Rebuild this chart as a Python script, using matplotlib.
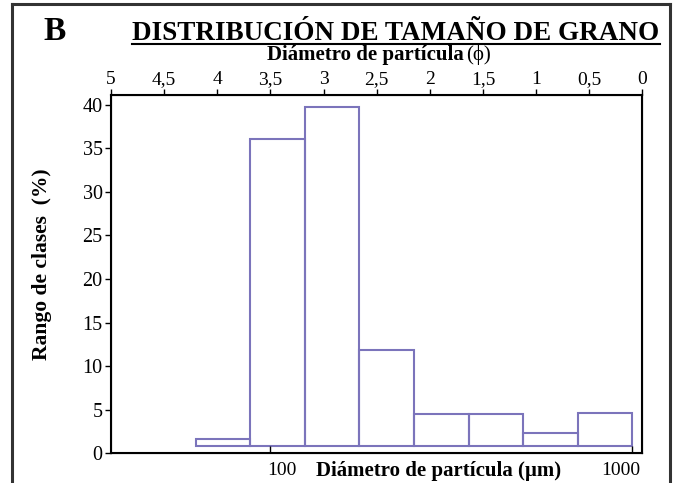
import matplotlib
matplotlib.use("Agg")
import matplotlib.pyplot as plt
import numpy as np
from matplotlib.lines import Line2D
from matplotlib.transforms import ScaledTranslation

plt.rcParams['font.family'] = ['Liberation Serif', 'DejaVu Serif']

# half-phi sieve classes (micrometres) and % retained in each class
bin_edges_um = [62.5, 88.4, 125, 176.8, 250, 353.6, 500, 707.1, 1000]
class_pct = [1.6, 36.0, 39.7, 11.9, 4.5, 4.5, 2.3, 4.6]
base_pct = 0.84

phi_ticks = [5, 4.5, 4, 3.5, 3, 2.5, 2, 1.5, 1, 0.5, 0]
phi_labels = ['5', '4,5', '4', '3,5', '3', '2,5', '2', '1,5', '1', '0,5', '0']
um_ticks = [100, 1000]
um_labels = ['100', '1000']
y_ticks = [0, 5, 10, 15, 20, 25, 30, 35, 40]

W, H = 677, 483
fig = plt.figure(figsize=(W / 100, H / 100), dpi=100)
ax = fig.add_axes([111 / W, 1 - 453.3 / H, 531.3 / W, 358.3 / H])

edges = np.array(bin_edges_um)
tops = np.array(class_pct)
ax.bar(edges[:-1], tops - base_pct, width=np.diff(edges), bottom=base_pct,
       align='edge', fill=False, edgecolor='#7b74bb', linewidth=1.5)

ax.set_xscale('log')
ax.set_xlim(36.5, 1065.6)
ax.set_ylim(0, 41.1)
ax.set_yticks(y_ticks)
ax.set_xticks(um_ticks)
ax.set_xticklabels(um_labels)
ax.xaxis.set_minor_locator(matplotlib.ticker.NullLocator())
ax.tick_params(axis='y', direction='out', length=4, width=1, labelsize=14.5, pad=2)
ax.tick_params(axis='x', direction='in', length=5, width=1, labelsize=14, pad=6)
ax.xaxis.get_major_ticks()[1].tick1line.set_visible(False)
for lab, dx in zip(ax.get_xticklabels(), [12, -12]):
    lab.set_transform(lab.get_transform() + ScaledTranslation(dx / 100, 0, fig.dpi_scale_trans))

for sp in ax.spines.values():
    sp.set_linewidth(1.5)

ax.set_xlabel('Diámetro de partícula (µm)', fontsize=15, fontweight='bold')
ax.xaxis.set_label_coords(0.617, -0.021)
ax.set_ylabel('Rango de clases  (%)', fontsize=15.5, fontweight='bold')
ax.yaxis.set_label_coords(-0.111, 0.528)

# phi scale along the top
ax2 = ax.twiny()
ax2.set_xlim(5, 0)
ax2.set_xticks(phi_ticks)
ax2.set_xticklabels(phi_labels)
ax2.tick_params(axis='x', direction='out', length=4, width=1, labelsize=14, pad=1)

fig.text(463.6 / W, 1 - 60 / H, 'Diámetro de partícula', ha='right', va='baseline',
         fontsize=15, fontweight='bold')
fig.text(465.7 / W, 1 - 60 / H, '(ϕ)', ha='left', va='baseline', fontsize=15)

fig.text(55 / W, 1 - 40 / H, 'B', ha='center', va='baseline', fontsize=24, fontweight='bold')
title = fig.text(396 / W, 1 - 40 / H, 'DISTRIBUCIÓN DE TAMAÑO DE GRANO', ha='center',
                 va='baseline', fontsize=19.5, fontweight='bold')
fig.canvas.draw()
bb = title.get_window_extent()
fig.add_artist(Line2D([bb.x0 / W, bb.x1 / W], [1 - 44 / H, 1 - 44 / H],
                      transform=fig.transFigure, color='black', linewidth=1.5))

# outer frame (open at the bottom)
frame_kw = dict(transform=fig.transFigure, color='#333333', linewidth=2.2)
fig.add_artist(Line2D([12 / W, 12 / W], [-0.1, 1 - 4 / H], **frame_kw))
fig.add_artist(Line2D([12 / W, 670 / W], [1 - 4 / H, 1 - 4 / H], **frame_kw))
fig.add_artist(Line2D([670 / W, 670 / W], [1 - 4 / H, -0.1], **frame_kw))

fig.savefig('out.png', dpi=100)
